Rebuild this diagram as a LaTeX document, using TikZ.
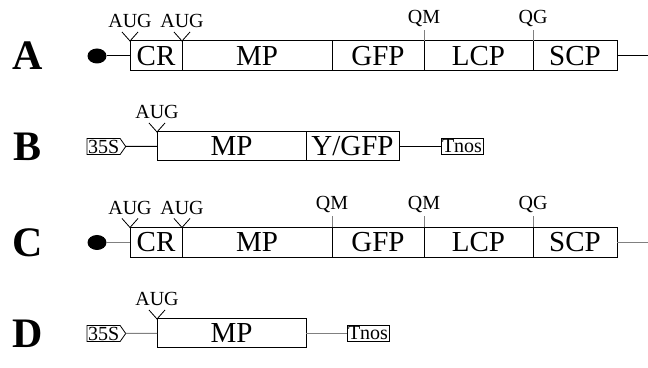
\documentclass[tikz,border=0pt]{standalone}
\usepackage{fontspec}
\setmainfont{Liberation Serif}
\usetikzlibrary{shapes.geometric,shapes.symbols,positioning}

\newcommand{\augsite}[2]{%
  \draw[vtick] ([xshift=-4pt,yshift=4.5pt]#1.north west) -- (#1.north west) -- ([xshift=4pt,yshift=4.5pt]#1.north west);
  \node[site] (#2) at ([yshift=6.5pt]#1.north west) {AUG};}
\newcommand{\qsite}[3]{%
  \node[site] (#3) at ([yshift=8.75pt]#1.north west) {#2};
  \draw[qtick] (#1.north west) -- ++(0,5.5pt);}

\tikzstyle{seg} = [draw, rectangle, inner sep=0pt, outer sep=0pt, minimum height=15pt, line width=0.5pt, font=\fontsize{14.5}{15}\selectfont]
\tikzstyle{promoter} = [draw, signal, signal to=east, signal pointer angle=110, inner xsep=0.5pt, inner ysep=0.5pt, minimum height=8pt, outer sep=0pt, font=\fontsize{10}{10}\selectfont]
\tikzstyle{term} = [draw, rectangle, inner xsep=0.5pt, inner ysep=0.5pt, minimum height=8pt, minimum width=20.5pt, outer sep=0pt, font=\fontsize{10}{10}\selectfont]
\tikzstyle{capdot} = [ellipse, fill=black, minimum width=9.5pt, minimum height=7.5pt, inner sep=0pt, outer sep=0pt]
\tikzstyle{rowlabel} = [font=\fontsize{21}{21}\selectfont\bfseries]
\tikzstyle{site} = [anchor=base, inner sep=0pt, font=\fontsize{10}{10}\selectfont]
\tikzstyle{vtick} = [draw, line width=0.4pt]
\tikzstyle{qtick} = [draw, gray, line width=0.4pt]
\tikzstyle{wire} = [draw, line width=0.5pt]
\tikzstyle{palewire} = [draw, gray, line width=0.5pt]

\begin{document}
\begin{tikzpicture}[x=0.5pt, y=-0.5pt]
\useasboundingbox (0,0) rectangle (648,368);

% construct A
\node [rowlabel] (labA) at (28,56) {A};
\node [capdot] (capA) at (97,56) {};
\node [seg, anchor=west, minimum width=26pt] (crA) at (130,56) {CR};
\node [seg, right=0pt of crA, minimum width=75pt] (mpA) {MP};
\node [seg, right=0pt of mpA, minimum width=46pt] (gfpA) {GFP};
\node [seg, right=0pt of gfpA, minimum width=54.5pt] (lcpA) {LCP};
\node [seg, right=0pt of lcpA, minimum width=42pt] (scpA) {SCP};
\coordinate (endA) at (648,56);
\augsite{crA}{augA1}
\augsite{mpA}{augA2}
\qsite{lcpA}{QM}{qmA}
\qsite{scpA}{QG}{qgA}

% construct B
\node [rowlabel] (labB) at (28,146.5) {B};
\node [promoter, anchor=west] (promB) at (87,146.5) {35S};
\node [seg, anchor=west, minimum width=74.5pt, minimum height=14.5pt] (mpB) at (157,146.5) {MP};
\node [seg, right=0pt of mpB, minimum width=46.5pt, minimum height=14.5pt] (gfpB) {Y/GFP};
\node [term, anchor=west] (tnosB) at (441,146.5) {Tnos};
\augsite{mpB}{augB}

% construct C
\node [rowlabel] (labC) at (28,242.5) {C};
\node [capdot] (capC) at (97,242.5) {};
\node [seg, anchor=west, minimum width=26pt] (crC) at (130,242.5) {CR};
\node [seg, right=0pt of crC, minimum width=75pt] (mpC) {MP};
\node [seg, right=0pt of mpC, minimum width=46pt] (gfpC) {GFP};
\node [seg, right=0pt of gfpC, minimum width=54.5pt] (lcpC) {LCP};
\node [seg, right=0pt of lcpC, minimum width=42pt] (scpC) {SCP};
\coordinate (endC) at (648,242.5);
\augsite{crC}{augC1}
\augsite{mpC}{augC2}
\qsite{gfpC}{QM}{qmC1}
\qsite{lcpC}{QM}{qmC2}
\qsite{scpC}{QG}{qgC}

% construct D
\node [rowlabel] (labD) at (28,333.5) {D};
\node [promoter, anchor=west] (promD) at (87,333.5) {35S};
\node [seg, anchor=west, minimum width=74.5pt, minimum height=14.5pt] (mpD) at (157,333.5) {MP};
\node [term, anchor=west] (tnosD) at (347,333.5) {Tnos};
\augsite{mpD}{augD}

% wires
\path [wire] (capA) -- (crA);
\path [wire] (scpA) -- (endA);
\path [wire] (promB) -- (mpB);
\path [wire] (gfpB) -- (tnosB);
\path [palewire] (capC) -- (crC);
\path [palewire] (scpC) -- (endC);
\path [palewire] (promD) -- (mpD);
\path [palewire] (mpD) -- (tnosD);

\end{tikzpicture}
\end{document}
